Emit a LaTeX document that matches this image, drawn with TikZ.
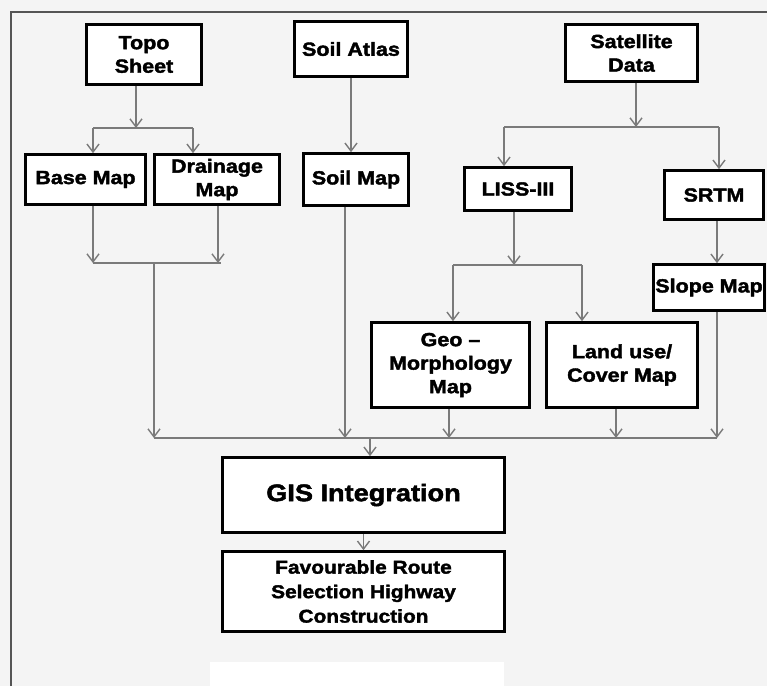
\documentclass[tikz,border=0pt]{standalone}
\usepackage{fontspec}
\newfontfamily\heavy{Liberation Sans}[FakeBold=2,FakeStretch=1.13]
\usetikzlibrary{arrows.meta}
\definecolor{paper}{HTML}{F4F4F4}
\definecolor{frameline}{HTML}{555555}
\definecolor{link}{HTML}{7A7A7A}
\begin{document}
\begin{tikzpicture}[x=1pt,y=-1pt,
  box/.style={draw=black, line width=2.6pt, fill=white, align=center, inner sep=0pt,
    font=\heavy\bfseries\fontsize{19}{23.5}\selectfont},
  arr/.style={draw=link, line width=1.6pt,
    -{Straight Barb[length=8pt,width=12pt,line width=1.4pt]}},
  wire/.style={draw=link, line width=1.6pt}]
\useasboundingbox (0,0) rectangle (767,686);
\fill[paper] (0,0) rectangle (767,686);
\fill[white] (210,662) rectangle (504,686);
\draw[frameline, line width=2pt] (11,686) -- (11,12) -- (767,12);

% source boxes
\node[box, minimum width=115pt, minimum height=60pt] (topo)  at (144,54.5) {Topo\\Sheet};
\node[box, minimum width=113pt, minimum height=55pt] (atlas) at (351,49)   {Soil Atlas};
\node[box, minimum width=132pt, minimum height=57pt] (sat)   at (631.5,53) {Satellite\\Data};

% derived layers
\node[box, minimum width=120pt, minimum height=50pt] (base)    at (85.5,179.5) {Base Map};
\node[box, minimum width=125pt, minimum height=50pt] (drain)   at (217,179.5)  {Drainage\\Map};
\node[box, minimum width=105pt, minimum height=52pt] (soilmap) at (356,179.5)  {Soil Map};
\node[box, minimum width=107pt, minimum height=43pt] (liss)    at (518,189)    {LISS-III};
\node[box, minimum width=99pt,  minimum height=49pt] (srtm)    at (714,195)    {SRTM};
\node[box, minimum width=111pt, minimum height=46pt] (slope)   at (709,287.5)  {Slope Map};
\node[box, minimum width=158pt, minimum height=85pt] (geo)     at (450.5,365)  {Geo –\\Morphology\\Map};
\node[box, minimum width=151pt, minimum height=85pt] (land)    at (622,365)    {Land use/\\Cover Map};

% integration and result
\node[box, minimum width=282pt, minimum height=75pt,
      font=\heavy\bfseries\fontsize{24}{28}\selectfont] (gis) at (363.5,495) {GIS Integration};
\node[box, minimum width=282pt, minimum height=80pt,
      font=\heavy\bfseries\fontsize{18.5}{24.5}\selectfont] (fav) at (363.5,591.5)
      {Favourable Route\\Selection Highway\\Construction};

% junction points
\coordinate (tj)   at (136,128);
\coordinate (tjL)  at (93,128);
\coordinate (tjR)  at (193,128);
\coordinate (sj)   at (636,127);
\coordinate (sjL)  at (504,127);
\coordinate (sjR)  at (719,127);
\coordinate (lj)   at (514,265);
\coordinate (ljL)  at (453,265);
\coordinate (ljR)  at (582,265);
\coordinate (bmL)  at (93,263);
\coordinate (bmR)  at (218,263);
\coordinate (bus1) at (154,438);
\coordinate (bus2) at (345,438);
\coordinate (bus3) at (449,438);
\coordinate (bus4) at (616,438);
\coordinate (bus5) at (717,438);
\coordinate (busout) at (370,438);

% topo sheet split
\draw[arr] (topo.south -| tj) -- (tj);
\draw[wire] (tjL) -- (tjR);
\draw[arr] (tjL) -- (tjL |- base.north);
\draw[arr] (tjR) -- (tjR |- drain.north);

% soil atlas
\draw[arr] (atlas.south) -- (atlas.south |- soilmap.north);

% satellite data split
\draw[arr] (sat.south -| sj) -- (sj);
\draw[wire] (sjL) -- (sjR);
\draw[arr] (sjL) -- (sjL |- liss.north);
\draw[arr] (sjR) -- (sjR |- srtm.north);

% LISS-III split
\draw[arr] (liss.south -| lj) -- (lj);
\draw[wire] (ljL) -- (ljR);
\draw[arr] (ljL) -- (ljL |- geo.north);
\draw[arr] (ljR) -- (ljR |- land.north);

% SRTM to slope
\draw[arr] (srtm.south -| bus5) -- (bus5 |- slope.north);

% base and drainage merge
\draw[arr] (base.south -| bmL) -- (bmL);
\draw[arr] (drain.south -| bmR) -- (bmR);
\draw[wire] (bmL) -- ([xshift=3pt]bmR);
\draw[arr] (bus1 |- bmL) -- (bus1);

% layers into the collector
\draw[arr] (soilmap.south -| bus2) -- (bus2);
\draw[arr] (geo.south -| bus3) -- (bus3);
\draw[arr] (land.south -| bus4) -- (bus4);
\draw[arr] (slope.south -| bus5) -- (bus5);
\draw[wire] (bus1) -- (bus5);

% collector to GIS and result
\draw[arr] (busout) -- (busout |- gis.north);
\draw[arr] (gis.south) -- (fav.north);
\end{tikzpicture}
\end{document}
